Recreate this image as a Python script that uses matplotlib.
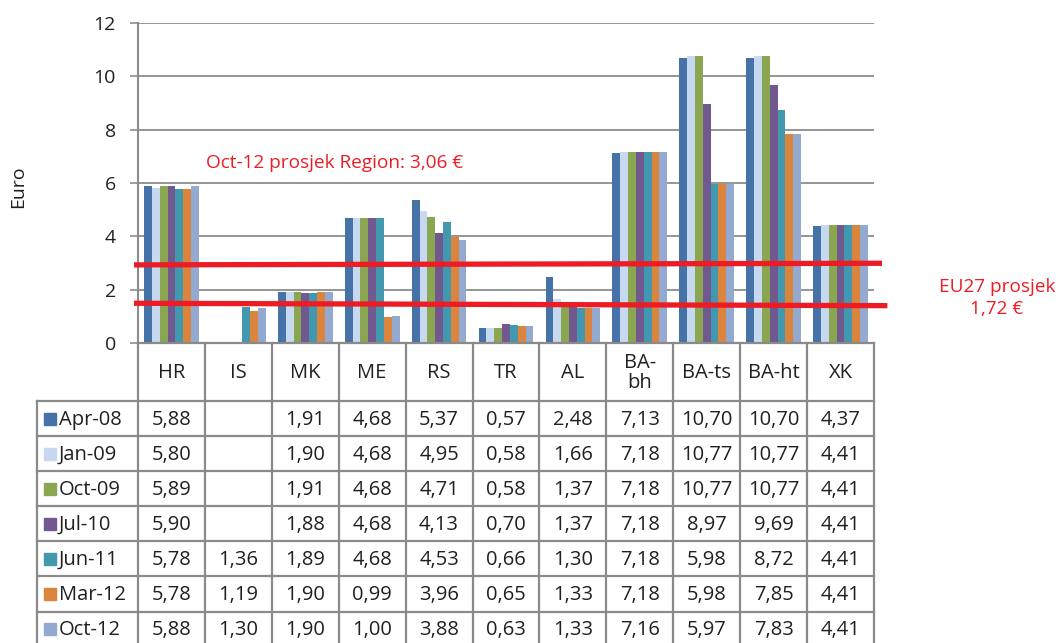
import numpy as np
import matplotlib
matplotlib.use("Agg")
import matplotlib.pyplot as plt

plt.rcParams['font.family'] = ['Open Sans', 'DejaVu Sans']

categories = ["HR", "IS", "MK", "ME", "RS", "TR", "AL", "BA-\nbh", "BA-ts", "BA-ht", "XK"]
series_names = ["Apr-08", "Jan-09", "Oct-09", "Jul-10", "Jun-11", "Mar-12", "Oct-12"]
nan = np.nan
apr08 = [5.88, nan, 1.91, 4.68, 5.37, 0.57, 2.48, 7.13, 10.70, 10.70, 4.37]
jan09 = [5.80, nan, 1.90, 4.68, 4.95, 0.58, 1.66, 7.18, 10.77, 10.77, 4.41]
oct09 = [5.89, nan, 1.91, 4.68, 4.71, 0.58, 1.37, 7.18, 10.77, 10.77, 4.41]
jul10 = [5.90, nan, 1.88, 4.68, 4.13, 0.70, 1.37, 7.18, 8.97, 9.69, 4.41]
jun11 = [5.78, 1.36, 1.89, 4.68, 4.53, 0.66, 1.30, 7.18, 5.98, 8.72, 4.41]
mar12 = [5.78, 1.19, 1.90, 0.99, 3.96, 0.65, 1.33, 7.18, 5.98, 7.85, 4.41]
oct12 = [5.88, 1.30, 1.90, 1.00, 3.88, 0.63, 1.33, 7.16, 5.97, 7.83, 4.41]
series = [apr08, jan09, oct09, jul10, jun11, mar12, oct12]
colors = ["#4572A7", "#C6D9F0", "#8BA650", "#71588F", "#4198AF", "#DB843D", "#93A9CF"]

yticks = [0, 2, 4, 6, 8, 10, 12]
# drawn annotation lines (start, end levels as drawn in the picture)
region_line = [2.93, 2.99]
eu_line = [1.49, 1.40]
region_text = "Oct-12 prosjek Region: 3,06 €"
eu_text = "EU27 prosjek\n1,72 €"

W, H = 1059, 643
fig = plt.figure(figsize=(W / 100, H / 100), dpi=100)
ax_l, ax_r, ax_t, ax_b = 138, 874, 23, 343
ax = fig.add_axes([ax_l / W, 1 - ax_b / H, (ax_r - ax_l) / W, (ax_b - ax_t) / H])

grid_c = "#8c8c8c"
txt_c = "#231f20"
n = len(categories)
x = np.arange(n)
bw = 0.117
for i, (vals, c) in enumerate(zip(series, colors)):
    ax.bar(x + (i - 3) * bw, vals, width=bw, color=c, zorder=3, linewidth=0)

ax.set_xlim(-0.5, n - 0.5)
ax.set_ylim(0, 12)
ax.set_yticks(yticks)
ax.set_yticklabels([str(t) for t in yticks], fontsize=14, color=txt_c)
ax.tick_params(axis='y', length=6, width=1.2, color=grid_c, pad=10)
ax.set_xticks([])
for s in ["top", "right", "bottom"]:
    ax.spines[s].set_visible(False)
ax.spines["left"].set_color(grid_c)
ax.spines["left"].set_linewidth(1.5)
ax.yaxis.grid(True, color=grid_c, linewidth=1.3, zorder=0)
ax.set_axisbelow(True)

red = "#ED1C24"
ax.plot([-0.56, 10.62], region_line, color=red, lw=3.8, clip_on=False, zorder=5, solid_capstyle='butt')
ax.plot([-0.56, 10.70], eu_line, color=red, lw=3.8, clip_on=False, zorder=5, solid_capstyle='butt')
fig.text(334.5 / W, 1 - 163 / H, region_text, color=red, fontsize=13.7, ha='center', va='center')
fig.text(997 / W, 1 - 298 / H, eu_text, color=red, fontsize=13.7, ha='center', va='center',
         linespacing=1.35)

fig.text(18 / W, 1 - 187 / H, "Euro", rotation=90, fontsize=14, ha='center', va='center',
         color=txt_c)

# table
tab = fig.add_axes([ax_l / W, 0, (ax_r - ax_l) / W, (H - ax_b) / H])
tab.set_xlim(-0.5, n - 0.5)
tab.set_ylim(H, ax_b)
tab.axis('off')
lc = "#8a8a8a"
lw = 1.6
hdr_bot = 401
row_h = 35.1
unit = (ax_r - ax_l) / n
left_x = -0.5 - (ax_l - 37) / unit
bottom = hdr_bot + row_h * len(series)
fs = 14.5
# header
tab.plot([-0.5, n - 0.5], [ax_b, ax_b], color=lc, lw=lw, clip_on=False)
for k in range(n + 1):
    tab.plot([k - 0.5, k - 0.5], [ax_b, bottom], color=lc, lw=lw, clip_on=False)
for k, cat in enumerate(categories):
    tab.text(k, (ax_b + hdr_bot) / 2 + 1, cat, ha='center', va='center', fontsize=fs,
             color=txt_c, linespacing=0.95)
# rows
for r in range(len(series) + 1):
    yy = hdr_bot + r * row_h
    tab.plot([left_x, n - 0.5], [yy, yy], color=lc, lw=lw, clip_on=False)
tab.plot([left_x, left_x], [hdr_bot, bottom], color=lc, lw=lw, clip_on=False)
sq_w = 12 / unit
for r, (name, vals, c) in enumerate(zip(series_names, series, colors)):
    yc = hdr_bot + (r + 0.5) * row_h
    sx = left_x + 7 / unit
    tab.add_patch(plt.Rectangle((sx, yc - 6), sq_w, 12, color=c, clip_on=False))
    tab.text(sx + sq_w + 3 / unit, yc + 1, name, ha='left', va='center',
             fontsize=fs, color=txt_c, clip_on=False)
    for k, v in enumerate(vals):
        if not np.isnan(v):
            tab.text(k, yc + 1, f"{v:.2f}".replace('.', ','), ha='center', va='center',
                     fontsize=fs, color=txt_c)

fig.savefig("out.png", dpi=100)
